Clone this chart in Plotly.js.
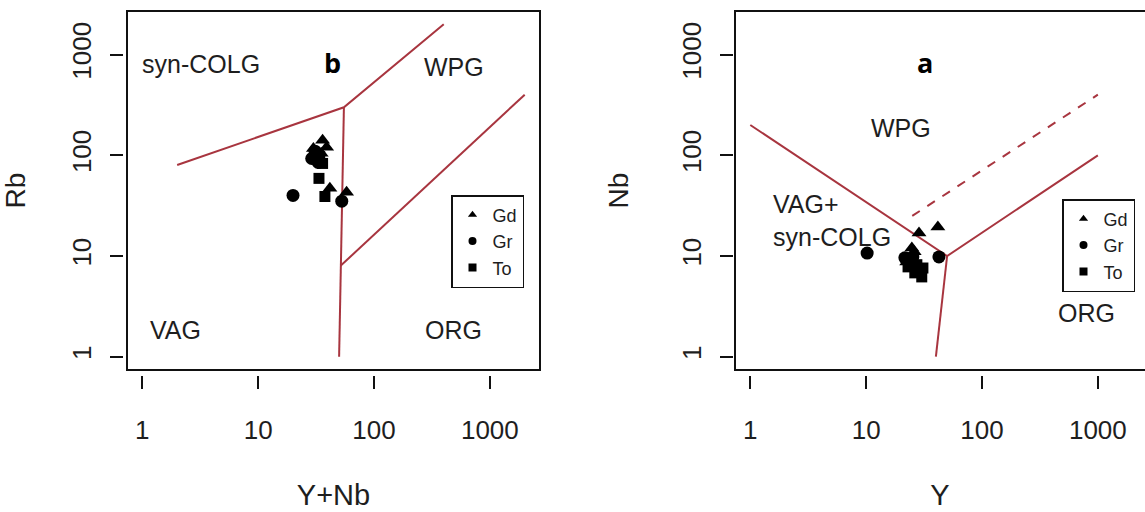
<!DOCTYPE html>
<html><head><meta charset="utf-8">
<script src="https://cdn.plot.ly/plotly-3.0.1.min.js"></script>
<style>html,body{margin:0;padding:0;background:#fff}#chart{width:1145px;height:512px}</style>
</head><body><div id="chart"></div>
<script>
// ---- Panel b: Rb vs (Y+Nb) ----
const bGdX = [36, 30, 39, 35, 41.6, 58];
const bGdY = [141, 117, 120, 105, 47, 43];
const bGrX = [20, 29, 33, 31, 52.7];
const bGrY = [40, 93, 85, 110, 35];
const bToX = [33.5, 37.7, 36, 34];
const bToY = [59, 39, 83, 97];
// discrimination boundaries (Pearce et al. 1984)
const bLine1X = [2, 55, 400];   const bLine1Y = [80, 300, 2000];
const bLine2X = [55, 51.5, 50]; const bLine2Y = [300, 8, 1];
const bLine3X = [51.5, 2000];   const bLine3Y = [8, 400];

// ---- Panel a: Nb vs Y ----
const aGdX = [41.6, 28.6, 24.8, 22.4, 26];
const aGdY = [19.4, 16.9, 12, 8.7, 11];
const aGrX = [10.2, 42.5, 21.6, 25.3];
const aGrY = [10.7, 9.8, 9.6, 9.8];
const aToX = [23, 27.4, 30.9, 30.2, 26.3];
const aToY = [7.8, 8.2, 7.6, 6.2, 6.8];
const aLine1X = [1, 50, 1000]; const aLine1Y = [200, 10, 100];
const aLine2X = [50, 40];      const aLine2Y = [10, 1];
const aLine3X = [25, 1000];    const aLine3Y = [25, 400];

const groups = ['Gd', 'Gr', 'To'];
const symbols = ['triangle-up', 'circle', 'square'];
const tickVals = [1, 10, 100, 1000];
const tickText = ['1', '10', '100', '1000'];

const lineColor = '#a8353f';
const FONT = 'Liberation Sans, Arial, sans-serif';
const TXT = '#1e1e1e';

function pts(x, y, i, xa, ya) {
  return {type: 'scatter', mode: 'markers', x: x, y: y, xaxis: xa, yaxis: ya,
    name: groups[i], showlegend: false,
    marker: {symbol: symbols[i], size: i === 2 ? 11 : 13, color: '#000'}};
}
function ln(x, y, xa, ya, dash) {
  return {type: 'scatter', mode: 'lines', x: x, y: y, xaxis: xa, yaxis: ya,
    showlegend: false, hoverinfo: 'skip',
    line: {color: lineColor, width: 2, dash: dash || 'solid'}};
}
function leg(i, xa, ya, lg) {
  return {type: 'scatter', mode: 'markers', x: [null], y: [null], xaxis: xa, yaxis: ya,
    name: groups[i], legend: lg, showlegend: true,
    marker: {symbol: symbols[i], size: 8, color: '#000'}};
}

const data = [
  ln(bLine1X, bLine1Y, 'x', 'y'), ln(bLine2X, bLine2Y, 'x', 'y'), ln(bLine3X, bLine3Y, 'x', 'y'),
  pts(bGdX, bGdY, 0, 'x', 'y'), pts(bGrX, bGrY, 1, 'x', 'y'), pts(bToX, bToY, 2, 'x', 'y'),
  leg(0, 'x', 'y', 'legend'), leg(1, 'x', 'y', 'legend'), leg(2, 'x', 'y', 'legend'),
  ln(aLine1X, aLine1Y, 'x2', 'y2'), ln(aLine2X, aLine2Y, 'x2', 'y2'), ln(aLine3X, aLine3Y, 'x2', 'y2', 'dash'),
  pts(aGdX, aGdY, 0, 'x2', 'y2'), pts(aGrX, aGrY, 1, 'x2', 'y2'), pts(aToX, aToY, 2, 'x2', 'y2'),
  leg(0, 'x2', 'y2', 'legend2'), leg(1, 'x2', 'y2', 'legend2'), leg(2, 'x2', 'y2', 'legend2')
];

const W = 1145, H = 512;
const yDom = [1 - 370 / H, 1 - 11 / H];
function xAxis(dom, range, pos, title) {
  return {type: 'log', domain: dom, range: range, anchor: 'free', position: pos,
    tickvals: tickVals, ticktext: tickText, ticks: 'outside', ticklen: 13, tickwidth: 2,
    tickcolor: '#111', showline: false, showgrid: false, zeroline: false,
    ticklabelstandoff: 19, tickfont: {family: FONT, size: 26, color: TXT},
    title: {text: title, font: {family: FONT, size: 29, color: TXT}, standoff: 40}};
}
function yAxis(anchorX, pos, title) {
  return {type: 'log', domain: yDom, range: [-0.132, 3.433], anchor: 'free', position: pos,
    tickvals: tickVals, ticktext: tickText, ticks: 'outside', ticklen: 13, tickwidth: 2,
    tickcolor: '#111', showline: false, showgrid: false, zeroline: false, tickangle: -90,
    ticklabelstandoff: 9, tickfont: {family: FONT, size: 26, color: TXT},
    title: {text: title, font: {family: FONT, size: 28, color: TXT}, standoff: 38}};
}

function ann(text, x, y, xr, yr, opts) {
  return Object.assign({text: text, x: x, y: y, xref: xr, yref: yr, showarrow: false,
    font: {family: FONT, size: 25, color: TXT}}, opts || {});
}
const boldFont = {family: 'Open Sans, Liberation Sans, sans-serif', size: 27, color: '#000'};

const layout = {
  width: W, height: H, margin: {l: 0, r: 0, t: 0, b: 0},
  paper_bgcolor: '#fff', plot_bgcolor: '#fff',
  xaxis: xAxis([127 / W, 540 / W], [-0.132, 3.433], 1 - 375 / H, 'Y+Nb'),
  yaxis: yAxis('x', 123 / W, 'Rb'),
  xaxis2: xAxis([735 / W, 1], [-0.132, 3.407], 1 - 375 / H, 'Y'),
  yaxis2: yAxis('x2', 733 / W, 'Nb'),
  shapes: [
    {type: 'rect', xref: 'x domain', yref: 'y domain', x0: 0, x1: 1, y0: 0, y1: 1,
      line: {color: '#111', width: 2}},
    {type: 'rect', xref: 'x2 domain', yref: 'y2 domain', x0: 0, x1: 1.02, y0: 0, y1: 1,
      line: {color: '#111', width: 2}}
  ],
  legend: {x: 451 / W, y: 1 - 195 / H, xanchor: 'left', yanchor: 'top',
    bordercolor: '#111', borderwidth: 1.5, bgcolor: '#fff', tracegroupgap: 0,
    font: {family: FONT, size: 18, color: TXT}},
  legend2: {x: 1062 / W, y: 1 - 199 / H, xanchor: 'left', yanchor: 'top',
    bordercolor: '#111', borderwidth: 1.5, bgcolor: '#fff', tracegroupgap: 0,
    font: {family: FONT, size: 18, color: TXT}},
  annotations: [
    ann('syn-COLG', 0.507, 2.907, 'x', 'y'),
    ann('<b>b</b>', 1.646, 2.926, 'x', 'y', {font: boldFont}),
    ann('WPG', 2.691, 2.877, 'x', 'y'),
    ann('VAG', 0.283, 0.265, 'x', 'y'),
    ann('ORG', 2.682, 0.265, 'x', 'y'),
    ann('<b>a</b>', 1.506, 2.926, 'x2', 'y2', {font: boldFont}),
    ann('WPG', 1.300, 2.271, 'x2', 'y2'),
    ann('VAG+<br>syn-COLG', 0.179, 1.357, 'x2', 'y2', {xanchor: 'left', align: 'left'}),
    ann('ORG', 2.898, 0.434, 'x2', 'y2')
  ]
};

Plotly.newPlot('chart', data, layout, {staticPlot: true, displayModeBar: false});
</script></body></html>
